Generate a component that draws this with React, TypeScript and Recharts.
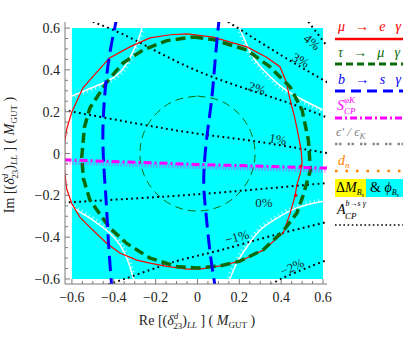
import React from 'react'
import { ComposedChart, Line, Scatter, XAxis, YAxis, ReferenceArea } from 'recharts'

type Pt = { x: number; y: number }

const SERIF = "'Liberation Serif', 'Times New Roman', serif"
const FRAME = '#7a7a7a'
const CYAN = '#00ffff'
const RED = '#ff0000'
const GREEN = '#0b6b0b'
const BLUE = '#0000ff'
const MAGENTA = '#ff00ff'

// axis ticks (frame ticks every 0.05, labels every 0.2)
const MAJOR_TICKS = [-0.6, -0.4, -0.2, 0, 0.2, 0.4, 0.6]
const ALL_TICKS = [
  -0.6, -0.55, -0.5, -0.45, -0.4, -0.35, -0.3, -0.25, -0.2, -0.15, -0.1, -0.05, 0,
  0.05, 0.1, 0.15, 0.2, 0.25, 0.3, 0.35, 0.4, 0.45, 0.5, 0.55, 0.6,
]

// mu -> e gamma
const RED_MEG: Pt[] = [
  { x: -0.05, y: 0.572 }, { x: 0.075, y: 0.557 }, { x: 0.236, y: 0.51 }, { x: 0.33, y: 0.46 },
  { x: 0.395, y: 0.414 }, { x: 0.425, y: 0.34 }, { x: 0.443, y: 0.256 }, { x: 0.465, y: 0.17 },
  { x: 0.48, y: 0.098 }, { x: 0.495, y: 0.02 }, { x: 0.5, y: -0.045 }, { x: 0.49, y: -0.1 },
  { x: 0.475, y: -0.15 }, { x: 0.467, y: -0.2 }, { x: 0.443, y: -0.285 }, { x: 0.41, y: -0.38 },
  { x: 0.314, y: -0.462 }, { x: 0.203, y: -0.515 }, { x: 0.108, y: -0.537 }, { x: 0.012, y: -0.553 },
  { x: -0.05, y: -0.553 }, { x: -0.146, y: -0.54 }, { x: -0.227, y: -0.524 }, { x: -0.29, y: -0.51 },
  { x: -0.371, y: -0.476 }, { x: -0.433, y: -0.43 }, { x: -0.5, y: -0.366 }, { x: -0.562, y: -0.304 },
  { x: -0.6, y: -0.24 }, { x: -0.625, y: -0.17 }, { x: -0.635, y: -0.08 }, { x: -0.635, y: 0.05 },
  { x: -0.624, y: 0.12 }, { x: -0.6, y: 0.2 }, { x: -0.547, y: 0.314 }, { x: -0.48, y: 0.39 },
  { x: -0.42, y: 0.457 }, { x: -0.323, y: 0.51 }, { x: -0.227, y: 0.553 }, { x: -0.13, y: 0.568 },
  { x: -0.05, y: 0.572 },
]
const RED_MARKS: Pt[] = [{ x: 0.495, y: -0.06 }, { x: 0.47, y: -0.2 }]

// tau -> mu gamma
const GREEN_TMG: Pt[] = [
  { x: -0.02, y: 0.557 }, { x: 0.075, y: 0.545 }, { x: 0.236, y: 0.495 }, { x: 0.347, y: 0.414 },
  { x: 0.443, y: 0.318 }, { x: 0.5, y: 0.208 }, { x: 0.53, y: 0.064 }, { x: 0.54, y: -0.08 },
  { x: 0.505, y: -0.2 }, { x: 0.475, y: -0.285 }, { x: 0.41, y: -0.37 }, { x: 0.314, y: -0.46 },
  { x: 0.203, y: -0.515 }, { x: 0.108, y: -0.537 }, { x: 0, y: -0.548 }, { x: -0.1, y: -0.54 },
  { x: -0.227, y: -0.5 }, { x: -0.338, y: -0.43 }, { x: -0.42, y: -0.355 }, { x: -0.514, y: -0.222 },
  { x: -0.545, y: -0.12 }, { x: -0.553, y: -0.017 }, { x: -0.54, y: 0.127 }, { x: -0.514, y: 0.218 },
  { x: -0.433, y: 0.342 }, { x: -0.356, y: 0.433 }, { x: -0.26, y: 0.495 }, { x: -0.146, y: 0.54 },
  { x: -0.02, y: 0.557 },
]
const GREEN_INNER: Pt[] = [
  { x: 0, y: 0.275 }, { x: 0.105, y: 0.254 }, { x: 0.194, y: 0.194 }, { x: 0.254, y: 0.105 },
  { x: 0.275, y: 0 }, { x: 0.254, y: -0.105 }, { x: 0.194, y: -0.194 }, { x: 0.105, y: -0.254 },
  { x: 0, y: -0.275 }, { x: -0.105, y: -0.254 }, { x: -0.194, y: -0.194 }, { x: -0.254, y: -0.105 },
  { x: -0.275, y: 0 }, { x: -0.254, y: 0.105 }, { x: -0.194, y: 0.194 }, { x: -0.105, y: 0.254 },
  { x: 0, y: 0.275 },
]

// b -> s gamma
const BLUE_LEFT: Pt[] = [
  { x: -0.383, y: 0.66 }, { x: -0.42, y: 0.472 }, { x: -0.443, y: 0.28 }, { x: -0.452, y: 0.08 },
  { x: -0.445, y: -0.1 }, { x: -0.435, y: -0.25 }, { x: -0.425, y: -0.43 }, { x: -0.408, y: -0.66 },
]
const BLUE_RIGHT: Pt[] = [
  { x: 0.105, y: 0.66 }, { x: 0.085, y: 0.45 }, { x: 0.068, y: 0.26 }, { x: 0.045, y: 0.08 },
  { x: 0.03, y: -0.12 }, { x: 0.04, y: -0.28 }, { x: 0.06, y: -0.47 }, { x: 0.088, y: -0.66 },
]

// S_CP^phiK
const MAGENTA_S: Pt[] = [{ x: -0.64, y: -0.03 }, { x: 0, y: -0.052 }, { x: 0.63, y: -0.07 }]

// Delta M_Bs & phi_Bs boundaries (white hatched arcs)
const WHITE_TL: Pt[] = [
  { x: -0.61, y: 0.27 }, { x: -0.53, y: 0.304 }, { x: -0.45, y: 0.337 }, { x: -0.385, y: 0.375 },
  { x: -0.338, y: 0.43 }, { x: -0.3, y: 0.505 }, { x: -0.275, y: 0.567 }, { x: -0.26, y: 0.625 },
]
const WHITE_TR: Pt[] = [
  { x: 0.19, y: 0.625 }, { x: 0.22, y: 0.557 }, { x: 0.265, y: 0.462 }, { x: 0.33, y: 0.385 },
  { x: 0.41, y: 0.313 }, { x: 0.505, y: 0.256 }, { x: 0.6, y: 0.208 },
]
const WHITE_BL: Pt[] = [
  { x: -0.61, y: -0.246 }, { x: -0.562, y: -0.28 }, { x: -0.5, y: -0.318 }, { x: -0.42, y: -0.38 },
  { x: -0.37, y: -0.438 }, { x: -0.338, y: -0.5 }, { x: -0.318, y: -0.557 }, { x: -0.305, y: -0.6 },
]
const WHITE_BR: Pt[] = [
  { x: 0.155, y: -0.6 }, { x: 0.19, y: -0.52 }, { x: 0.236, y: -0.447 }, { x: 0.3, y: -0.366 },
  { x: 0.38, y: -0.309 }, { x: 0.475, y: -0.26 }, { x: 0.6, y: -0.228 },
]

// A_CP^{b->s gamma} contours
const ACP_4: Pt[] = [{ x: 0.53, y: 0.63 }, { x: 0.63, y: 0.5 }]
const ACP_3: Pt[] = [{ x: 0.146, y: 0.63 }, { x: 0.4, y: 0.47 }, { x: 0.63, y: 0.335 }]
const ACP_2: Pt[] = [
  { x: -0.5, y: 0.63 }, { x: -0.3, y: 0.543 }, { x: 0.012, y: 0.39 }, { x: 0.395, y: 0.256 }, { x: 0.63, y: 0.168 },
]
const ACP_1: Pt[] = [
  { x: -0.64, y: 0.208 }, { x: -0.3, y: 0.145 }, { x: 0, y: 0.095 }, { x: 0.265, y: 0.06 }, { x: 0.63, y: 0 },
]
const ACP_0: Pt[] = [
  { x: -0.64, y: -0.235 }, { x: -0.3, y: -0.215 }, { x: 0, y: -0.195 }, { x: 0.3, y: -0.17 }, { x: 0.63, y: -0.14 },
]
const ACP_M1: Pt[] = [
  { x: -0.45, y: -0.635 }, { x: -0.227, y: -0.557 }, { x: -0.084, y: -0.51 }, { x: 0.11, y: -0.462 },
  { x: 0.35, y: -0.395 }, { x: 0.63, y: -0.325 },
]
const ACP_M2: Pt[] = [{ x: 0.33, y: -0.64 }, { x: 0.43, y: -0.585 }, { x: 0.63, y: -0.505 }]
const ACP_LINES = [ACP_4, ACP_3, ACP_2, ACP_1, ACP_0, ACP_M1, ACP_M2]

const PCT_TEXT = ['4%', '3%', '2%', '1%', '0%', '−1%', '−2%']
const PCT_X = [0.547, 0.494, 0.284, 0.384, 0.318, 0.189, 0.452]
const PCT_Y = [0.533, 0.447, 0.313, 0.069, -0.232, -0.399, -0.543]
const PCT_ANGLE = [40, 28, 18, 10, 0, -15, -25]

const pctData = PCT_TEXT.map((t, i) => ({ x: PCT_X[i], y: PCT_Y[i], text: t, angle: PCT_ANGLE[i] }))

const isMajor = (v: number) => MAJOR_TICKS.some((m) => Math.abs(m - v) < 1e-6)
const fmt = (v: number) => {
  if (Math.abs(v) < 1e-9) return '0'
  const s = Math.abs(v).toFixed(1)
  return v < 0 ? '−' + s : s
}

// shift a curve by a small amount (for hatch strips)
const shift = (pts: Pt[], dx: number, dy: number) => pts.map((p) => ({ x: p.x + dx, y: p.y + dy }))

const BottomTick = (props: any) => {
  const { x, y, payload } = props
  const major = isMajor(payload.value)
  return (
    <g>
      <line x1={x} y1={y} x2={x} y2={y - (major ? 5 : 3)} stroke={FRAME} />
      {major && (
        <text x={x} y={y + 18} textAnchor="middle" fontSize={14} fontFamily={SERIF} fill="#222">
          {fmt(payload.value)}
        </text>
      )}
    </g>
  )
}
const TopTick = (props: any) => {
  const { x, y, payload } = props
  const major = isMajor(payload.value)
  return <line x1={x} y1={y} x2={x} y2={y + (major ? 5 : 3)} stroke={FRAME} />
}
const LeftTick = (props: any) => {
  const { x, y, payload } = props
  const major = isMajor(payload.value)
  return (
    <g>
      <line x1={x} y1={y} x2={x + (major ? 5 : 3)} y2={y} stroke={FRAME} />
      {major && (
        <text x={x - 5} y={y + 5} textAnchor="end" fontSize={14} fontFamily={SERIF} fill="#222">
          {fmt(payload.value)}
        </text>
      )}
    </g>
  )
}
const RightTick = (props: any) => {
  const { x, y, payload } = props
  const major = isMajor(payload.value)
  return <line x1={x} y1={y} x2={x - (major ? 5 : 3)} y2={y} stroke={FRAME} />
}

const PctLabel = (props: any) => {
  const { cx, cy, payload } = props
  return (
    <text
      x={cx}
      y={cy}
      transform={`rotate(${payload.angle} ${cx} ${cy})`}
      textAnchor="middle"
      dominantBaseline="central"
      fontSize={13}
      fontFamily={SERIF}
      fill="#1a2a2a"
    >
      {payload.text}
    </text>
  )
}

function AxisTitle({ prefix, x, y, vertical }: { prefix: string; x: number; y: number; vertical?: boolean }) {
  return (
    <text
      x={x}
      y={y}
      textAnchor="middle"
      fontSize={14}
      fontFamily={SERIF}
      fill="#222"
      transform={vertical ? `rotate(-90 ${x} ${y})` : undefined}
    >
      {prefix + ' [('}
      <tspan fontStyle="italic">δ</tspan>
      <tspan fontSize={9} fontStyle="italic" dy={-6}>d</tspan>
      <tspan fontSize={9} dx={-5} dy={10}>23</tspan>
      <tspan dy={-4}>)</tspan>
      <tspan fontSize={9} fontStyle="italic" dy={3}>LL</tspan>
      <tspan dy={-3}>{' ] ( '}</tspan>
      <tspan fontStyle="italic">M</tspan>
      <tspan fontSize={9} dy={3}>GUT</tspan>
      <tspan dy={-3}>{' )'}</tspan>
    </text>
  )
}

function LegendPanel() {
  const t = { fontFamily: SERIF, fontStyle: 'italic' as const }
  return (
    <svg width={406} height={343} style={{ position: 'absolute', left: 0, top: 0, pointerEvents: 'none' }}>
      <text x={338} y={31} fontSize={14} fill={RED} {...t} textLength={63}>μ → e γ</text>
      <line x1={335} x2={403} y1={39} y2={39} stroke={RED} strokeWidth={2.5} />

      <text x={338} y={57} fontSize={14} fill={GREEN} {...t} textLength={62}>τ → μ γ</text>
      <line x1={335} x2={403} y1={64} y2={64} stroke={GREEN} strokeWidth={3} strokeDasharray="7 4" />

      <text x={338} y={84} fontSize={14} fill={BLUE} {...t} textLength={63}>b → s γ</text>
      <line x1={335} x2={403} y1={91} y2={91} stroke={BLUE} strokeWidth={3} strokeDasharray="10 6" />

      <text x={337} y={110} fontSize={14} fill={MAGENTA} {...t}>
        S<tspan fontSize={9} dy={-7}>φK</tspan>
        <tspan fontSize={9} dx={-11} dy={11}>CP</tspan>
      </text>
      <line x1={335} x2={403} y1={118} y2={118} stroke={MAGENTA} strokeWidth={3} strokeDasharray="7 3 2 3" />

      <text x={336} y={136} fontSize={13} fill="#8a8a8a" {...t}>
        ϵ′ / ϵ<tspan fontSize={9} dy={3}>K</tspan>
      </text>
      <line x1={335} x2={403} y1={144} y2={144} stroke="#8a8a8a" strokeWidth={2.5} strokeDasharray="2.5 1.5 2.5 6" />

      <text x={338} y={165} fontSize={14} fill="#ff8000" {...t}>
        d<tspan fontSize={9} dy={3}>n</tspan>
      </text>
      <line x1={335} x2={403} y1={171} y2={171} stroke="#ff8000" strokeWidth={2.5} strokeDasharray="2.5 8" />

      <rect x={335} y={179} width={31} height={18} fill="#ffff00" />
      <rect x={366} y={179} width={37} height={18} fill={CYAN} />
      <text x={336} y={192} fontSize={14} fill="#000" fontFamily={SERIF}>
        Δ<tspan fontStyle="italic">M</tspan>
        <tspan fontSize={8} fontStyle="italic" dy={3}>B</tspan>
        <tspan fontSize={6} fontStyle="italic" dy={2}>s</tspan>
      </text>
      <text x={370} y={192} fontSize={14} fill="#000" fontFamily={SERIF}>
        {'& '}
        <tspan fontStyle="italic">ϕ</tspan>
        <tspan fontSize={8} fontStyle="italic" dy={3}>B</tspan>
        <tspan fontSize={6} fontStyle="italic" dy={2}>s</tspan>
      </text>

      <text x={337} y={214} fontSize={14} fill="#000" {...t}>
        A<tspan fontSize={8} dy={-8}>b→s γ</tspan>
      </text>
      <text x={345} y={219} fontSize={9} fill="#000" {...t}>CP</text>
      <line x1={335} x2={403} y1={225} y2={225} stroke="#000" strokeWidth={1.6} strokeDasharray="1.6 2.6" />

      <AxisTitle prefix="Re" x={197} y={325} />
      <AxisTitle prefix="Im" x={14} y={155} vertical />
    </svg>
  )
}

const curve = (
  key: string,
  data: Pt[],
  stroke: string,
  width: number,
  dash?: string,
  type: 'linear' | 'natural' = 'linear',
  opacity = 1,
) => (
  <Line
    key={key}
    data={data}
    dataKey="y"
    type={type}
    stroke={stroke}
    strokeWidth={width}
    strokeDasharray={dash}
    strokeOpacity={opacity}
    dot={false}
    activeDot={false}
    isAnimationActive={false}
    legendType="none"
  />
)

export default function App() {
  return (
    <div style={{ position: 'fixed', left: 0, top: 0, width: 406, height: 343, background: '#fff' }}>
      <ComposedChart width={406} height={343} margin={{ top: 22, right: 79, bottom: 0, left: 0 }}>
        <XAxis
          dataKey="x"
          type="number"
          domain={[-0.633, 0.619]}
          allowDataOverflow
          ticks={ALL_TICKS}
          interval={0}
          tick={BottomTick}
          tickLine={false}
          tickSize={0}
          tickMargin={0}
          height={59}
          axisLine={{ stroke: FRAME }}
        />
        <XAxis
          xAxisId="top"
          orientation="top"
          dataKey="x"
          type="number"
          domain={[-0.633, 0.619]}
          allowDataOverflow
          ticks={ALL_TICKS}
          interval={0}
          tick={TopTick}
          tickLine={false}
          tickSize={0}
          tickMargin={0}
          height={0}
          axisLine={{ stroke: FRAME }}
        />
        <YAxis
          dataKey="y"
          type="number"
          domain={[-0.624, 0.629]}
          allowDataOverflow
          ticks={ALL_TICKS}
          interval={0}
          tick={LeftTick}
          tickLine={false}
          tickSize={0}
          tickMargin={0}
          width={65}
          axisLine={{ stroke: FRAME }}
        />
        <YAxis
          yAxisId="right"
          orientation="right"
          dataKey="y"
          type="number"
          domain={[-0.624, 0.629]}
          allowDataOverflow
          ticks={ALL_TICKS}
          interval={0}
          tick={RightTick}
          tickLine={false}
          tickSize={0}
          tickMargin={0}
          width={0}
          axisLine={{ stroke: FRAME }}
        />

        <ReferenceArea x1={-0.6} x2={0.6} y1={-0.6} y2={0.6} fill={CYAN} fillOpacity={1} stroke="none" />

        {curve('wtl-h', shift(WHITE_TL, 0.007, -0.007), '#fff', 3, '0.8 3.5', 'natural', 0.85)}
        {curve('wtr-h', shift(WHITE_TR, -0.007, -0.007), '#fff', 3, '0.8 3.5', 'natural', 0.85)}
        {curve('wbl-h', shift(WHITE_BL, 0.007, 0.007), '#fff', 3, '0.8 3.5', 'natural', 0.85)}
        {curve('wbr-h', shift(WHITE_BR, -0.007, 0.007), '#fff', 3, '0.8 3.5', 'natural', 0.85)}
        {curve('wtl', WHITE_TL, '#fff', 1.5, undefined, 'natural')}
        {curve('wtr', WHITE_TR, '#fff', 1.5, undefined, 'natural')}
        {curve('wbl', WHITE_BL, '#fff', 1.5, undefined, 'natural')}
        {curve('wbr', WHITE_BR, '#fff', 1.5, undefined, 'natural')}

        {ACP_LINES.map((pts, i) => curve('acp' + i, pts, '#000', 2, '1.8 3.4', 'natural'))}

        {curve('ginner', GREEN_INNER, GREEN, 1, '8 5', 'natural')}
        {curve('red', RED_MEG, RED, 1.2)}
        {curve('green', GREEN_TMG, GREEN, 3.5, '10 5')}
        {curve('blueL', BLUE_LEFT, BLUE, 3, '15 7', 'natural')}
        {curve('blueR', BLUE_RIGHT, BLUE, 3, '15 7', 'natural')}
        {curve('mag-h', shift(MAGENTA_S, 0, -0.013), MAGENTA, 4, '1 2', 'linear', 0.55)}
        {curve('mag', MAGENTA_S, MAGENTA, 3, '8 3 2 3')}

        <Scatter data={RED_MARKS} fill={RED} isAnimationActive={false} shape={(p: any) => <circle cx={p.cx} cy={p.cy} r={1.6} fill={RED} />} />
        <Scatter data={pctData} isAnimationActive={false} shape={PctLabel} />
      </ComposedChart>
      <LegendPanel />
    </div>
  )
}
